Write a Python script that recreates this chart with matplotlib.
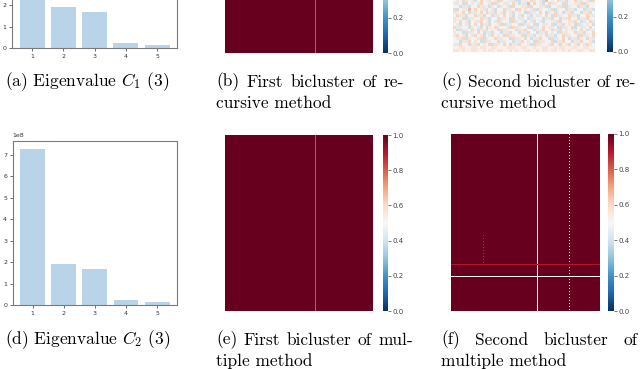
import numpy as np
import matplotlib
matplotlib.use("Agg")
import matplotlib.pyplot as plt
from matplotlib.ticker import MultipleLocator

W, H = 640, 369

# bar charts: eigenvalues of C1 and C2
eig_ranks = [1, 2, 3, 4, 5]
eig_c1 = [7.28e8, 1.90e8, 1.66e8, 0.21e8, 0.12e8]
eig_c2 = [7.28e8, 1.93e8, 1.67e8, 0.24e8, 0.13e8]

cbar_ticks = [0.0, 0.2, 0.4, 0.6, 0.8, 1.0]

# bicluster heatmaps (rows x cols of the bicluster)
hm_rows, hm_cols = 176, 148
rec1_line_col, rec1_line_val = 90, 0.82
mul1_line_col, mul1_line_val = 90, 0.82
mul2_white_col = 85
mul2_dotted_col = 117
mul2_faint_col, mul2_faint_rows = 32, (100, 129)
mul2_red_row, mul2_red_val = 129, 0.9
mul2_white_row = 141

# second bicluster of recursive method: only the bottom rows are visible,
# levels 0-9 (4/5 = near white)
rec2_total_rows = 60
rec2_visible = [
    "564735625746356274563725647356284657362547635627",
    "635274653745627356347526384756257364527456372645",
    "457362547635264735627453627453672546372645736254",
    "725638475637462547365274653726453726547362547362",
    "364752634752637462537465273647526473526374526374",
    "573625473625473657462537462536475273645736254763",
    "645273654736254736527463573645263745263745263745",
    "357462563746253764527346253746254637254637526473",
    "462537475263745627364527364725365726374652734652",
    "736452643752647354627365472635746352736472536475",
    "527364752637465273645263745263745263746536475263",
    "645273647526374526374526374526374652736457362547",
    "374625374625374652736457263746573625473645273647",
    "563726453726457364527364752637452736475263745263",
    "452637465273645736452637465273645726374526374562",
    "637452637465273647526374562736453746253746253764",
    "556655665665566555666556655655665565665566556655",
    "665655665565665665565655665565665665565655665566",
]


def rect(x0, y0, x1, y1):
    # pixel box (top-left origin) -> figure fraction
    return [x0 / W, 1 - y1 / H, (x1 - x0) / W, (y1 - y0) / H]


def bar_panel(box, values):
    ax = fig.add_axes(rect(*box))
    ax.bar(eig_ranks, values, width=0.8, color="#b9d4e9")
    ax.set_xticks(eig_ranks)
    ax.yaxis.set_major_locator(MultipleLocator(1e8))
    ax.set_ylabel("Eigenvalue", fontsize=4.5, labelpad=2, color="#333333")
    ax.tick_params(labelsize=4.5, length=2, width=0.5, colors="#333333", pad=2)
    ax.yaxis.get_offset_text().set_fontsize(4.5)
    for s in ax.spines.values():
        s.set_color("#7a7a7a")
        s.set_linewidth(0.8)
    return ax


def heat_panel(box, cbox, mat):
    ax = fig.add_axes(rect(*box))
    im = ax.imshow(mat, cmap="RdBu_r", vmin=0, vmax=1, aspect="auto",
                   interpolation="nearest")
    ax.axis("off")
    cax = fig.add_axes(rect(*cbox))
    cb = fig.colorbar(im, cax=cax, ticks=cbar_ticks, format="%.1f")
    cb.outline.set_visible(False)
    cax.tick_params(labelsize=5, length=2, width=0.5, colors="#444444", pad=1)
    return ax


cap_kw = dict(fontsize=12.5, family="cmr10", va="center", ha="left")


def caption(x0, y, text):
    fig.text(x0 / W, 1 - y / H, text, **cap_kw)


def caption_justified(x0, x1, y, words):
    texts = [fig.text(0, 1 - y / H, w, **cap_kw) for w in words]
    r = fig.canvas.get_renderer()
    widths = [t.get_window_extent(r).width for t in texts]
    gap = (x1 - x0 - sum(widths)) / (len(words) - 1)
    x = x0
    for t, w in zip(texts, widths):
        t.set_x(x / W)
        x += w + gap


plt.rcParams["mathtext.fontset"] = "cm"

fig = plt.figure(figsize=(6.4, 3.69), dpi=100)

# build heatmap matrices
rec1 = np.ones((hm_rows, hm_cols))
rec1[:, rec1_line_col] = rec1_line_val

mul1 = np.ones((hm_rows, hm_cols))
mul1[:, mul1_line_col] = mul1_line_val

mul2 = np.ones((hm_rows, hm_cols))
mul2[:, mul2_white_col] = 0.5
mul2[::3, mul2_dotted_col] = 0.6
mul2[mul2_faint_rows[0]:mul2_faint_rows[1]:3, mul2_faint_col] = 0.88
mul2[mul2_red_row, :] = mul2_red_val
mul2[mul2_white_row, :] = 0.5

levels = np.array([[int(c) for c in row] for row in rec2_visible], dtype=float)
rec2 = np.full((rec2_total_rows, levels.shape[1]), np.nan)
rec2[-len(rec2_visible):] = 0.5 + (levels - 4.5) * 0.045

# top row (cropped at the top of the page)
bar_panel((12, -116, 177, 48), eig_c1)
heat_panel((225, -123, 373, 53), (383, -123, 388.5, 53), rec1)
heat_panel((453, -124, 595, 52), (607, -124, 613, 52), rec2)

# bottom row
bar_panel((12.7, 140.7, 177, 305), eig_c2)
heat_panel((225, 135, 373, 311), (383, 135, 388.5, 311), mul1)
heat_panel((451, 134, 600, 311), (608, 134, 614, 311), mul2)

# captions
caption(5, 82, r"(a) Eigenvalue $C_1$ (3)")
caption_justified(216, 404, 82, ["(b)", "First", "bicluster", "of", "re-"])
caption(216, 103, "cursive method")
caption_justified(441, 636, 82, ["(c)", "Second", "bicluster", "of", "re-"])
caption(441, 103, "cursive method")

caption(5, 340, r"(d) Eigenvalue $C_2$ (3)")
caption_justified(216, 413, 340, ["(e)", "First", "bicluster", "of", "mul-"])
caption(216, 361, "tiple method")
caption_justified(441, 637, 340, ["(f)", "Second", "bicluster", "of"])
caption(441, 361, "multiple method")

fig.savefig("out.png", dpi=100)
